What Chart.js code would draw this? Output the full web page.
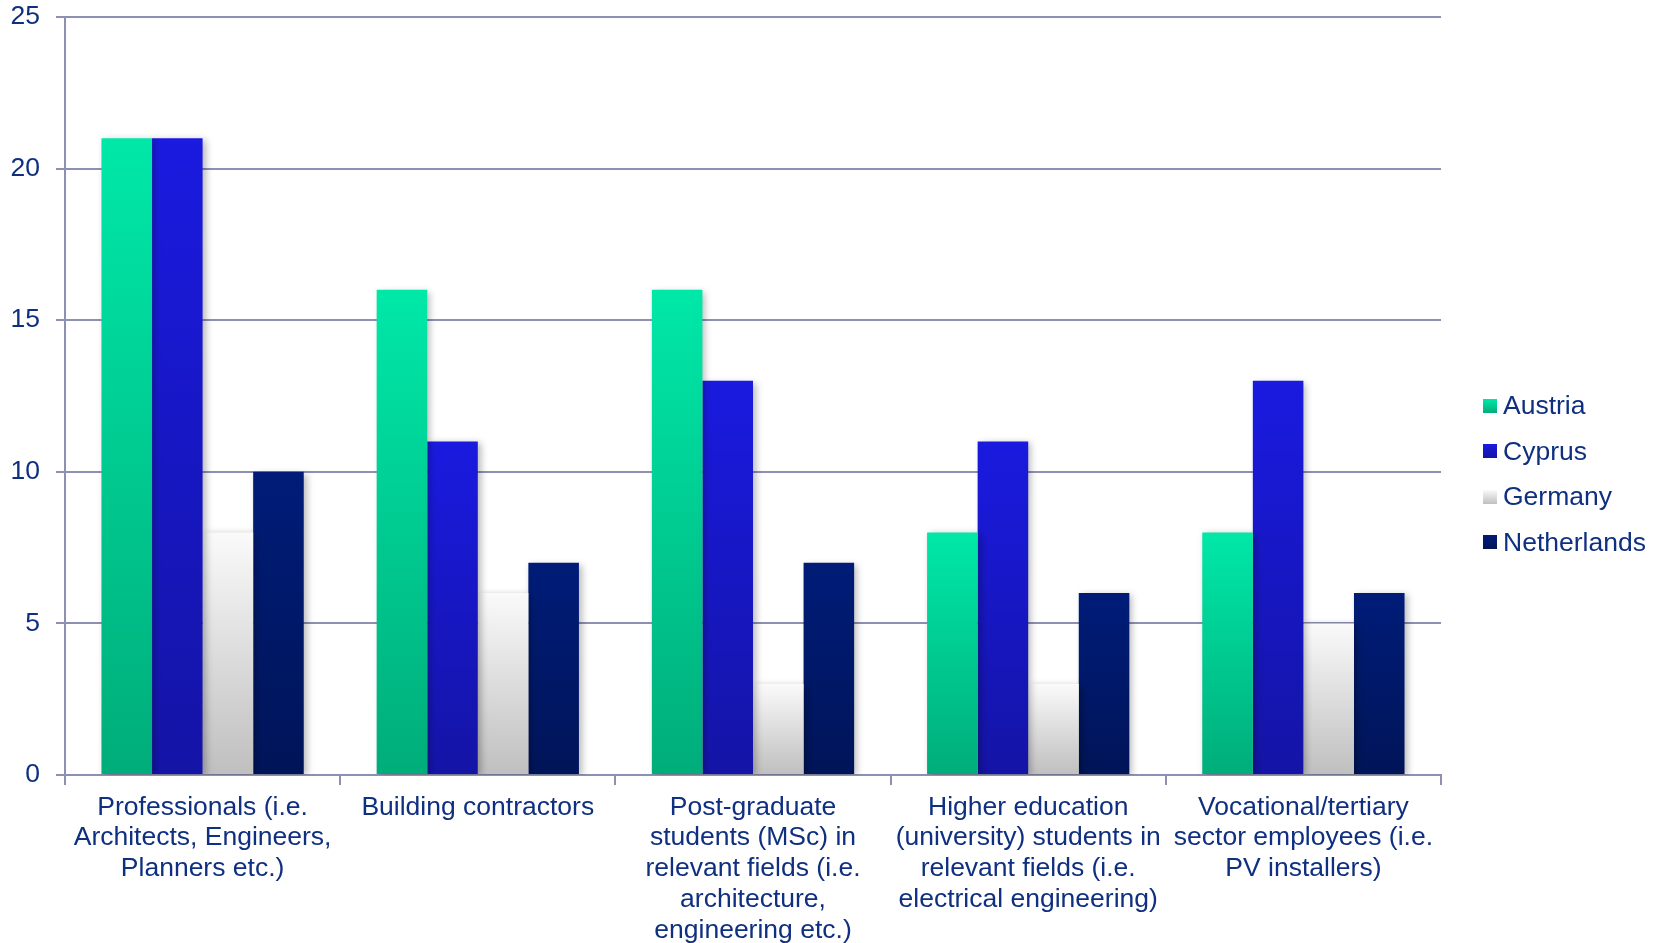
<!DOCTYPE html>
<html>
<head>
<meta charset="utf-8">
<script src="https://cdn.jsdelivr.net/npm/chart.js@4"></script>
<style>
html,body{margin:0;padding:0;background:#fff;overflow:hidden;}
#wrap{position:relative;width:1661px;height:943px;overflow:hidden;}
canvas{position:absolute;left:0;top:-15px;}
#legend{position:absolute;left:1483px;top:383px;font-family:"Liberation Sans",Arial,sans-serif;font-size:26.5px;color:#0f2f80;}
.item{display:flex;align-items:center;height:45.5px;}
.sw{width:14px;height:14px;margin-right:6px;}
</style>
</head>
<body>
<div id="wrap"><canvas id="c" width="1661" height="958"></canvas><div id="legend"></div></div>
<script>
const categories = [
  ["Professionals (i.e.", "Architects, Engineers,", "Planners etc.)"],
  ["Building contractors"],
  ["Post-graduate", "students (MSc) in", "relevant fields (i.e.", "architecture,", "engineering etc.)"],
  ["Higher education", "(university) students in", "relevant fields (i.e.", "electrical engineering)"],
  ["Vocational/tertiary", "sector employees (i.e.", "PV installers)"]
];
const seriesNames = ["Austria", "Cyprus", "Germany", "Netherlands"];
const austria = [21, 16, 16, 8, 8];
const cyprus = [21, 11, 13, 11, 13];
const germany = [8, 6, 3, 3, 5];
const netherlands = [10, 7, 7, 6, 6];
const yTicks = [0, 5, 10, 15, 20, 25];

const gradStops = [
  ["#00e8a8", "#00ad7a"],
  ["#1a1ae0", "#1414a6"],
  ["#fafafa", "#bfbfbf"],
  ["#001c78", "#001458"]
];
const values = [austria, cyprus, germany, netherlands];

function barGradient(i) {
  return function(ctx) {
    const chart = ctx.chart;
    if (!chart.chartArea || ctx.type !== 'data') return gradStops[i][0];
    const y = chart.scales.y;
    const top = y.getPixelForValue(ctx.raw);
    const bot = y.getPixelForValue(0);
    const g = chart.ctx.createLinearGradient(0, top, 0, bot);
    g.addColorStop(0, gradStops[i][0]);
    g.addColorStop(1, gradStops[i][1]);
    return g;
  };
}

const shadowPlugin = {
  id: 'shadow',
  beforeDatasetsDraw(chart) {
    const c = chart.ctx;
    c.save();
    c.shadowColor = 'rgba(0,0,0,0.28)';
    c.shadowBlur = 7;
    c.shadowOffsetX = 3;
    c.shadowOffsetY = 2;
  },
  afterDatasetsDraw(chart) { chart.ctx.restore(); }
};

const textColor = '#0f2f80';
const gridColor = '#8d90b2';
const font = {family: '"Liberation Sans", Arial, sans-serif', size: 26.5};

new Chart(document.getElementById('c'), {
  type: 'bar',
  data: {
    labels: categories,
    datasets: seriesNames.map((n, i) => ({
      label: n,
      data: values[i],
      backgroundColor: barGradient(i),
      borderWidth: 0,
      barPercentage: 1,
      categoryPercentage: 0.735
    }))
  },
  plugins: [shadowPlugin],
  options: {
    responsive: false,
    animation: false,
    layout: {padding: {left: 0, right: 220, top: 4, bottom: 0}},
    plugins: {legend: {display: false}, tooltip: {enabled: false}, title: {display: false}},
    scales: {
      x: {
        afterFit(s) { s.height = 168; },
        grid: {offset: true, drawOnChartArea: false, color: gridColor, lineWidth: 2, tickLength: 10},
        border: {color: gridColor, width: 2},
        ticks: {color: textColor, font: Object.assign({}, font, {lineHeight: 1.16}), padding: 7, maxRotation: 0, autoSkip: false}
      },
      y: {
        min: 0, max: 25,
        afterFit(s) { s.width = 65; },
        afterBuildTicks(s) { s.ticks = yTicks.map(v => ({value: v})); },
        grid: {color: gridColor, lineWidth: 2, tickLength: 9},
        border: {color: gridColor, width: 2},
        ticks: {color: textColor, font: font, padding: 16}
      }
    }
  }
});

const leg = document.getElementById('legend');
seriesNames.forEach((n, i) => {
  const d = document.createElement('div');
  d.className = 'item';
  const s = document.createElement('div');
  s.className = 'sw';
  s.style.background = 'linear-gradient(' + gradStops[i][0] + ',' + gradStops[i][1] + ')';
  const t = document.createElement('span');
  t.textContent = n;
  d.appendChild(s); d.appendChild(t);
  leg.appendChild(d);
});
</script>
</body>
</html>
